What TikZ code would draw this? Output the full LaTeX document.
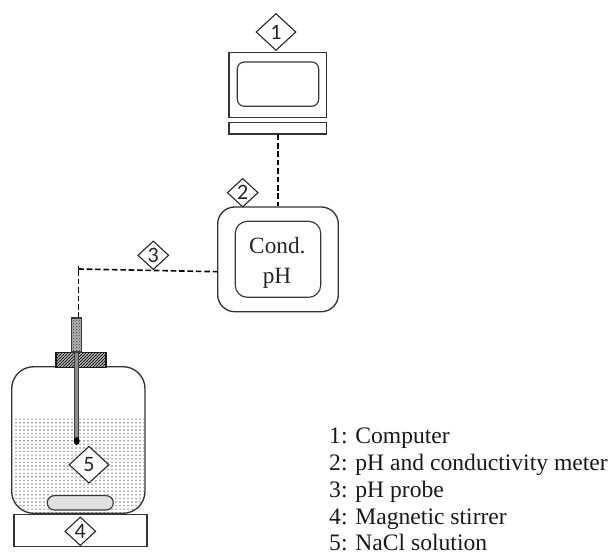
\documentclass[tikz,border=0pt]{standalone}
\usepackage{fontspec}
\setmainfont{Liberation Serif}
\newfontfamily\numfont{Carlito}
\usetikzlibrary{patterns,shapes.geometric}
\pgfdeclarepatternformonly{liquiddots}{\pgfqpoint{-1pt}{-1pt}}{\pgfqpoint{1pt}{1pt}}{\pgfqpoint{4pt}{3.6pt}}{%
  \pgfpathcircle{\pgfqpoint{0pt}{0pt}}{.8pt}\pgfusepath{fill}}
\pgfdeclarepatternformonly{caphatch}{\pgfqpoint{-.5pt}{-.5pt}}{\pgfqpoint{3.5pt}{3.5pt}}{\pgfqpoint{3pt}{3pt}}{%
  \pgfsetlinewidth{.95pt}\pgfpathmoveto{\pgfqpoint{-.5pt}{-.5pt}}\pgfpathlineto{\pgfqpoint{3.5pt}{3.5pt}}\pgfusepath{stroke}}
\tikzset{
  x=1pt,y=-1pt,
  outline/.style={draw=black!80,line width=1.35pt},
  thin outline/.style={draw=black!78,line width=1.15pt},
  wire/.style={draw=black,line width=1.6pt,dash pattern=on 5.6pt off 2.8pt},
  tag/.style={diamond,draw=black!85,fill=white,line width=1.1pt,inner sep=0pt,minimum width=#1*2pt,minimum height=#1*1.85pt,aspect=1.08,font=\numfont\fontsize{22}{22}\selectfont,text=black!85},
  legendtext/.style={anchor=base west,inner sep=0pt,font=\fontsize{23.6}{23.6}\selectfont,text=black!90},
  metertext/.style={anchor=base,inner sep=0pt,font=\fontsize{23.3}{23.3}\selectfont,text=black!85}
}
\begin{document}
\begin{tikzpicture}
\useasboundingbox (0,0) rectangle (612,556);
% computer
\draw[outline] (229,52.3) rectangle (326.7,117.3);
\draw[thin outline,rounded corners=7pt] (237.3,62) rectangle (318.7,106.3);
\node[outline,minimum width=97.7pt,minimum height=11.3pt,inner sep=0pt] (base) at (277.85,128.3) {};
\node[tag=20] (t1) at (276,32) {1};
% meter
\node[outline,rounded corners=17pt,minimum width=120.6pt,minimum height=104.7pt,inner sep=0pt] (meter) at (278,259.35) {};
\draw[thin outline,rounded corners=12pt] (235.3,221.3) rectangle (320.7,297.3);
\node[metertext] (cond) at (277.4,253.3) {Cond.};
\node[metertext] (ph) at (277,283.3) {pH};
\node[tag=15.5] (t2) at (242.7,192.7) {2};
\draw[wire] (base.south -| meter.north) -- (meter.north);
% liquid
\begin{scope}
\clip (11.7,416.7) rectangle (145,513.3);
\fill[pattern=liquiddots,pattern color=black!50,rounded corners=22pt] (13,380) rectangle (144,513);
\end{scope}
% jar
\draw[outline,rounded corners=22pt] (11.7,513.3) rectangle (145,366.7);
% stir bar
\node[thin outline,fill=black!12,rounded corners=7pt,minimum width=66pt,minimum height=14.3pt,inner sep=0pt] (bar) at (80.3,502.8) {};
% cap
\fill[black!15] (56,352.7) rectangle (106,367.7);
\fill[pattern=caphatch,pattern color=black!90] (56,352.7) rectangle (106,367.7);
\draw[outline,draw=black!90] (56,352.7) rectangle (106,367.7);
% probe
\fill[black!30] (71.3,318) rectangle (81.7,352);
\fill[pattern=crosshatch dots,pattern color=black!80] (71.3,318) rectangle (81.7,352);
\draw[thin outline] (71.3,318) rectangle (81.7,352);
\draw[draw=black!75,fill=black!45,line width=.8pt] (74.7,352) rectangle (78.7,438);
\fill[black] (76.7,441) ellipse (3pt and 4pt);
\node[tag=20] (t5) at (89,464.7) {5};
% stirrer
\node[outline,fill=white,minimum width=133pt,minimum height=32.4pt,inner sep=0pt] (stir) at (80.5,530.5) {};
\node[tag=15.5] (t4) at (80.3,531.3) {4};
% wire
\coordinate (pr) at (78.3,269);
\coordinate (m) at (217.7,271.7);
\draw[wire] (pr) -- (m);
\draw[wire] (78.3,318) -- (pr);
\draw[black,line width=1.2pt] (78.3,269) -- (78.3,265.7);
\node[tag=15.5] (t3) at (153.3,255.3) {3};
% legend
\node[legendtext] (l1) at (329,443) {1: Computer};
\node[legendtext] (l2) at (329,470) {2: pH and conductivity meter};
\node[legendtext] (l3) at (329,497) {3: pH probe};
\node[legendtext] (l4) at (329,524) {4: Magnetic stirrer};
\node[legendtext] (l5) at (329,550.5) {5: NaCl solution};
\end{tikzpicture}
\end{document}
